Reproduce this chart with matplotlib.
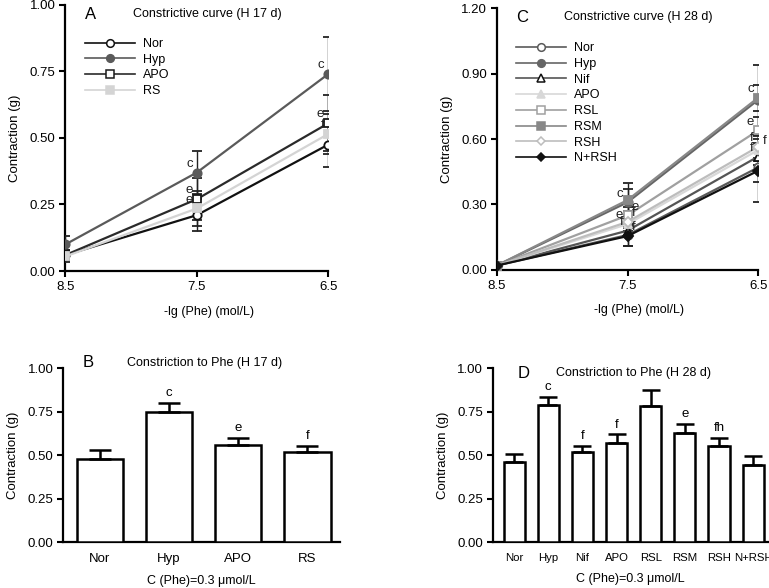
import matplotlib.pyplot as plt
from matplotlib.lines import Line2D
import numpy as np

plt.rcParams['font.family'] = ['Liberation Sans', 'DejaVu Sans']

# -lg (Phe) concentrations
conc = [8.5, 7.5, 6.5]

# panel A (H 17 d)
a_groups = ['Nor', 'Hyp', 'APO', 'RS']
a_mean = {'Nor': [0.06, 0.21, 0.475],
          'Hyp': [0.10, 0.37, 0.74],
          'APO': [0.06, 0.27, 0.555],
          'RS': [0.055, 0.235, 0.515]}
a_err = {'Nor': [0.02, 0.06, 0.085],
         'Hyp': [0.03, 0.08, 0.14],
         'APO': [0.02, 0.08, 0.105],
         'RS': [0.02, 0.065, 0.075]}
a_marks = [('Hyp', 1, 'c', 'l'), ('APO', 1, 'e', 'l'), ('RS', 1, 'e', 'l'),
           ('Hyp', 2, 'c', 'l'), ('APO', 2, 'e', 'l'), ('RS', 2, 'f', 'l')]

# panel C (H 28 d)
c_groups = ['Nor', 'Hyp', 'Nif', 'APO', 'RSL', 'RSM', 'RSH', 'N+RSH']
c_mean = {'Nor': [0.02, 0.16, 0.47],
          'Hyp': [0.02, 0.31, 0.78],
          'Nif': [0.02, 0.18, 0.52],
          'APO': [0.02, 0.21, 0.55],
          'RSL': [0.02, 0.25, 0.64],
          'RSM': [0.02, 0.32, 0.79],
          'RSH': [0.02, 0.22, 0.565],
          'N+RSH': [0.02, 0.155, 0.455]}
c_err = {'Nor': [0.01, 0.05, 0.16],
         'Hyp': [0.01, 0.09, 0.16],
         'Nif': [0.01, 0.03, 0.04],
         'APO': [0.01, 0.03, 0.05],
         'RSL': [0.01, 0.04, 0.06],
         'RSM': [0.01, 0.05, 0.06],
         'RSH': [0.01, 0.03, 0.05],
         'N+RSH': [0.01, 0.045, 0.05]}
c_marks = [('Hyp', 1, 'c', 'l'), ('RSL', 1, 'e', 'r'), ('APO', 1, 'e', 'l'),
           ('RSH', 1, 'f', 'r'), ('Nif', 1, 'f', 'l'), ('N+RSH', 1, 'f', 'r'),
           ('RSM', 2, 'c', 'l'), ('RSL', 2, 'e', 'l'), ('RSH', 2, 'f', 'l'),
           ('APO', 2, 'f', 'r'), ('Nif', 2, 'f', 'l')]

# panel B bars
b_groups = ['Nor', 'Hyp', 'APO', 'RS']
b_mean = [0.48, 0.745, 0.56, 0.52]
b_err = [0.05, 0.055, 0.04, 0.035]
b_marks = ['', 'c', 'e', 'f']

# panel D bars
d_groups = ['Nor', 'Hyp', 'Nif', 'APO', 'RSL', 'RSM', 'RSH', 'N+RSH']
d_mean = [0.46, 0.79, 0.52, 0.57, 0.785, 0.625, 0.555, 0.445]
d_err = [0.045, 0.045, 0.035, 0.05, 0.09, 0.055, 0.045, 0.05]
d_marks = ['', 'c', 'f', 'f', '', 'e', 'fh', '']

a_style = {'Nor': ('#111111', 'o', 'white', '#111111'),
           'Hyp': ('#5a5a5a', 'o', '#5a5a5a', '#5a5a5a'),
           'APO': ('#2a2a2a', 's', 'white', '#1a1a1a'),
           'RS': ('#d4d4d4', 's', '#d4d4d4', '#d4d4d4')}
c_style = {'Nor': ('#5a5a5a', 'o', 'white', '#5a5a5a'),
           'Hyp': ('#666666', 'o', '#666666', '#666666'),
           'Nif': ('#555555', '^', 'white', '#111111'),
           'APO': ('#d8d8d8', '^', '#d8d8d8', '#d8d8d8'),
           'RSL': ('#a0a0a0', 's', 'white', '#a0a0a0'),
           'RSM': ('#888888', 's', '#888888', '#888888'),
           'RSH': ('#bdbdbd', 'D', 'white', '#bdbdbd'),
           'N+RSH': ('#111111', 'D', '#111111', '#111111')}

FS = 9.5
fig = plt.figure(figsize=(7.69, 5.88), dpi=100)


def style_axes(ax):
    for s in ['top', 'right']:
        ax.spines[s].set_visible(False)
    for s in ['left', 'bottom']:
        ax.spines[s].set_linewidth(1.6)
    ax.tick_params(direction='out', width=1.5, length=4, labelsize=FS, pad=3)


def line_panel(rect, groups, mean, err, style, marks, ymax, yticks, letter, title, leg_y):
    ax = fig.add_axes(rect)
    style_axes(ax)
    handles = []
    for g in groups:
        lc, mk, fc, ec = style[g]
        ms = 6 if mk != 'D' else 5
        ax.errorbar(conc, mean[g], yerr=err[g], color=lc, lw=1.6, marker=mk,
                    ms=ms, mfc=fc, mec=ec, mew=1.3,
                    ecolor='#222222', elinewidth=1.0, capsize=3.5, capthick=1.0,
                    zorder=3)
        handles.append(Line2D([], [], color=lc, lw=1.2, marker=mk, ms=ms - 0.5,
                              mfc=fc, mec=ec, mew=1.1, label=g))
    for g, i, t, side in marks:
        dx = -3 if side == 'l' else 3
        ax.annotate(t, (conc[i], mean[g][i]), xytext=(dx, 2), textcoords='offset points',
                    fontsize=FS, ha='right' if side == 'l' else 'left', va='bottom',
                    color='#222222', zorder=5)
    ax.set_xlim(8.5, 6.5)
    ax.set_ylim(0, ymax)
    ax.set_xticks(conc)
    ax.set_xticklabels(['8.5', '7.5', '6.5'])
    ax.set_yticks(yticks)
    ax.set_yticklabels(['%.2f' % v for v in yticks])
    ax.set_ylabel('Contraction (g)', fontsize=FS, labelpad=6)
    ax.text(0.075, 0.965, letter, transform=ax.transAxes, fontsize=12, va='center')
    ax.text(0.54, 0.965, title, transform=ax.transAxes, fontsize=9,
            va='center', ha='center')
    ax.set_xlabel('-lg (Phe) (mol/L)', fontsize=9, labelpad=10)
    ax.xaxis.set_label_coords(0.545, -0.13)
    ax.legend(handles=handles, loc='upper left', bbox_to_anchor=(0.075, leg_y),
              frameon=False, fontsize=9, handlelength=4.0, handletextpad=0.6,
              labelspacing=0.3, borderpad=0, borderaxespad=0, numpoints=1)
    return ax


def bar_panel(rect, groups, mean, err, marks, width, xlim, cap, letter, title, title_y, lab_x, tick_fs):
    ax = fig.add_axes(rect)
    style_axes(ax)
    x = np.arange(len(groups))
    ax.bar(x, mean, width=width, color='white', edgecolor='black', linewidth=1.8,
           yerr=[np.zeros(len(err)), err], capsize=cap,
           error_kw=dict(elinewidth=1.8, capthick=1.8, ecolor='black'), zorder=3)
    for xi, m, e, t in zip(x, mean, err, marks):
        if t:
            ax.text(xi, m + e + 0.02, t, fontsize=FS, ha='center', va='bottom')
    ax.set_xlim(*xlim)
    ax.set_ylim(0, 1.0)
    ax.set_yticks([0, 0.25, 0.5, 0.75, 1.0])
    ax.set_yticklabels(['0.00', '0.25', '0.50', '0.75', '1.00'])
    ax.set_xticks(x)
    ax.set_xticklabels(groups, fontsize=tick_fs)
    ax.tick_params(axis='x', length=0, pad=8)
    ax.set_ylabel('Contraction (g)', fontsize=FS, labelpad=6)
    ax.text(lab_x, title_y, letter, transform=ax.transAxes, fontsize=12, va='center')
    ax.text(0.51, title_y, title, transform=ax.transAxes, fontsize=9,
            va='center', ha='center')
    ax.set_xlabel(u'C (Phe)=0.3 \u03bcmol/L', fontsize=9, labelpad=7)
    return ax


line_panel([0.085, 0.539, 0.342, 0.453], a_groups, a_mean, a_err, a_style, a_marks,
           1.0, [0, 0.25, 0.5, 0.75, 1.0], 'A', 'Constrictive curve (H 17 d)', 0.875)
line_panel([0.646, 0.541, 0.34, 0.445], c_groups, c_mean, c_err, c_style, c_marks,
           1.2, [0, 0.3, 0.6, 0.9, 1.2], 'C', 'Constrictive curve (H 28 d)', 0.87)
bar_panel([0.082, 0.078, 0.36, 0.296], b_groups, b_mean, b_err, b_marks, 0.67,
          (-0.53, 3.47), 8, 'B', 'Constriction to Phe (H 17 d)', 1.03, 0.07, FS)
bar_panel([0.641, 0.078, 0.358, 0.296], d_groups, d_mean, d_err, d_marks, 0.62,
          (-0.62, 7.44), 6.5, 'D', 'Constriction to Phe (H 28 d)', 0.97, 0.09, 8.2)

fig.savefig('out.png', dpi=100)
